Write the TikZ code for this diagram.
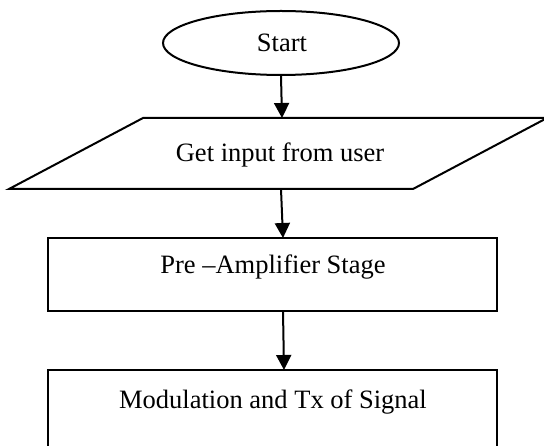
\documentclass[tikz,border=0pt]{standalone}
\usepackage{fontspec}
\setmainfont{Liberation Serif}
\usetikzlibrary{shapes.geometric,arrows.meta}
\begin{document}
\begin{tikzpicture}[x=1pt,y=-1pt,
  lbl/.style={font=\fontsize{26.5}{30}\selectfont, inner sep=0pt},
  ln/.style={line width=2pt},
  arr/.style={ln,-{Triangle[width=15pt,length=15pt]}},
  boxst/.style={draw, ln}]
\useasboundingbox (0,0) rectangle (544,446);
% Start
\node[ellipse, draw, line width=2pt, minimum width=236pt, minimum height=64pt, inner sep=0pt] (start) at (281,43) {};
\node[lbl] (starttxt) at (282,43) {Start};
% Parallelogram
\coordinate (pbl) at (9,189);
\coordinate (pbr) at (413,189);
\coordinate (ptr) at (547,118);
\coordinate (ptl) at (143,118);
\draw[ln, line join=miter] (pbl) -- (pbr) -- (ptr) -- (ptl) -- cycle;
\node[lbl] (inp) at (280,155) {Get input from user};
\coordinate (ptop) at (282,118);
\coordinate (pbot) at (281,189);
% Pre-amplifier
\node[boxst, minimum width=449pt, minimum height=73pt, inner sep=0pt] (pre) at (272.5,274.5) {};
\node[lbl] (pretxt) at (273,267) {Pre –Amplifier Stage};
% Modulation
\draw[ln] (48,460) -- (48,370) -- (497,370) -- (497,460);
\coordinate (modtop) at (284,370);
\node[lbl] (modtxt) at (273,402) {Modulation and Tx of Signal};
% arrows
\draw[arr] (start.south) -- (ptop);
\draw[arr] (pbot) -- (283,238);
\draw[arr] (283,311) -- (modtop);
\end{tikzpicture}
\end{document}
